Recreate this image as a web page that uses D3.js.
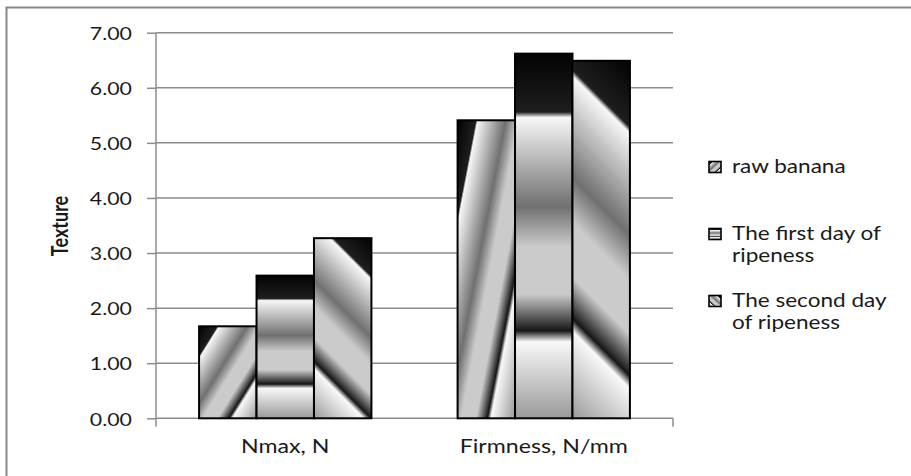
<!DOCTYPE html>
<html>
<head>
<meta charset="utf-8">
<script src="https://cdn.jsdelivr.net/npm/d3@7"></script>
<style>
  html, body { margin: 0; padding: 0; background: #fff; }
  svg { display: block; }
  text { font-family: Lato, "Open Sans", sans-serif; fill: #1a1a1a; }
</style>
</head>
<body>
<svg id="chart" width="911" height="476"></svg>
<script>
// Texture measurements per banana ripeness stage
const categories = ["Nmax, N", "Firmness, N/mm"];
const seriesNames = ["raw banana", "The first day of ripeness", "The second day of ripeness"];
const rawBanana = [1.67, 5.41];
const firstDay = [2.59, 6.62];
const secondDay = [3.27, 6.49];
const yTicks = [0, 1, 2, 3, 4, 5, 6, 7];
const yTitle = "Texture";

const seriesValues = [rawBanana, firstDay, secondDay];

// metallic grey gradient shared by every bar
const chromeStops = [
  [0.00, "#030303"], [0.16, "#1e1e1e"], [0.175, "#f7f7f7"],
  [0.42, "#707070"], [0.53, "#cbcbcb"], [0.66, "#cbcbcb"],
  [0.76, "#161616"], [0.79, "#f8f8f8"], [1.00, "#9a9a9a"]
];

const SX = 1.22;          // horizontal text stretch
const gridColor = "#8c8c8c";

const svg = d3.select("#chart");
const defs = svg.append("defs");

const plotLeft = 156, plotRight = 673, plotTop = 32.7, plotBottom = 418.3;

const y = d3.scaleLinear().domain([0, 7]).range([plotBottom, plotTop]);
const x0 = d3.scaleBand().domain(categories).range([plotLeft, plotRight]).paddingInner(0).paddingOuter(0);
// gap between groups equals 1.5 bar widths
const barW = x0.bandwidth() / 4.5;
const x1 = d3.scaleBand().domain(d3.range(seriesNames.length))
  .range([0, barW * seriesNames.length]);

function addStops(grad) {
  grad.selectAll("stop").data(chromeStops).join("stop")
    .attr("offset", d => d[0]).attr("stop-color", d => d[1]);
}

// bbox-relative gradients: diagonal (series 0), vertical (series 1), anti-diagonal (legend swatch of series 2)
const g0 = defs.append("linearGradient").attr("id", "grad0")
  .attr("x1", 0).attr("y1", 0).attr("x2", 1).attr("y2", 1);
addStops(g0);
const g1 = defs.append("linearGradient").attr("id", "grad1")
  .attr("x1", 0).attr("y1", 0).attr("x2", 0).attr("y2", 1);
addStops(g1);
const g2 = defs.append("linearGradient").attr("id", "grad2")
  .attr("x1", 1).attr("y1", 0).attr("x2", 0).attr("y2", 1);
addStops(g2);

// outer chart border
svg.append("rect")
  .attr("x", 6.5).attr("y", 7.5).attr("width", 1000).attr("height", 600)
  .attr("fill", "none").attr("stroke", "#878787").attr("stroke-width", 2);

// horizontal gridlines
svg.append("g").selectAll("line").data(yTicks.filter(d => d > 0)).join("line")
  .attr("x1", plotLeft).attr("x2", plotRight)
  .attr("y1", d => y(d)).attr("y2", d => y(d))
  .attr("stroke", gridColor).attr("stroke-width", 1.5);

// y axis
const yAxis = svg.append("g").attr("transform", `translate(${plotLeft},0)`)
  .call(d3.axisLeft(y).tickValues(yTicks).tickFormat(d3.format(".2f")).tickSize(9).tickPadding(0));
yAxis.select(".domain").remove();
yAxis.selectAll(".tick line").attr("stroke", gridColor).attr("stroke-width", 1.5);
yAxis.selectAll(".tick text").attr("x", 0).attr("dy", null)
  .attr("dominant-baseline", "central")
  .attr("transform", `translate(-24,0) scale(${SX},1)`)
  .style("font-size", "17.5px").style("fill", "#1a1a1a").style("font-family", "Lato, sans-serif");
svg.append("line").attr("x1", plotLeft).attr("x2", plotLeft).attr("y1", plotTop).attr("y2", plotBottom + 8.5)
  .attr("stroke", gridColor).attr("stroke-width", 1.5);

// x axis
svg.append("line").attr("x1", plotLeft).attr("x2", plotRight).attr("y1", plotBottom).attr("y2", plotBottom)
  .attr("stroke", gridColor).attr("stroke-width", 1.5);
svg.append("line").attr("x1", plotRight).attr("x2", plotRight).attr("y1", plotBottom).attr("y2", plotBottom + 8.5)
  .attr("stroke", gridColor).attr("stroke-width", 1.5);

// category labels
svg.append("g").selectAll("text").data(categories).join("text")
  .attr("transform", d => `translate(${x0(d) + x0.bandwidth() / 2},453) scale(${SX},1)`)
  .attr("text-anchor", "middle")
  .style("font-size", "19px")
  .text(d => d);

// axis title
svg.append("text")
  .attr("transform", `translate(68,226) scale(${SX},1) rotate(-90)`)
  .attr("text-anchor", "middle")
  .style("font-size", "18px").style("font-weight", "bold")
  .text(yTitle);

// bars
const groups = svg.append("g").selectAll("g").data(categories).join("g")
  .attr("transform", d => `translate(${x0(d) + (x0.bandwidth() - barW * 3) / 2},0)`);

groups.each(function(cat, ci) {
  const g = d3.select(this);
  seriesValues.forEach((vals, si) => {
    const bx = x1(si), by = y(vals[ci]), bh = y(0) - y(vals[ci]), bw = x1.bandwidth();
    let fill = `url(#grad${si})`;
    if (si === 2) {
      // anti-diagonal sweep kept at a fixed 45° on screen (group-local coordinates)
      const id = `grad2-${ci}`;
      const ax = bx + bw, ay = by;
      const half = (bw + bh) / 2;
      const gr = defs.append("linearGradient").attr("id", id)
        .attr("gradientUnits", "userSpaceOnUse")
        .attr("x1", ax).attr("y1", ay).attr("x2", ax - half).attr("y2", ay + half);
      addStops(gr);
      fill = `url(#${id})`;
    }
    g.append("rect")
      .attr("x", bx).attr("y", by).attr("width", bw).attr("height", bh)
      .attr("fill", fill).attr("stroke", "#000").attr("stroke-width", 2);
  });
});

// legend
const legend = svg.append("g");
const maxLegendWidth = 170;
const lineH = 22, entryH = 67, legX = 732, legY = 173;
seriesNames.forEach((name, i) => {
  const baseY = legY + i * entryH;
  legend.append("rect")
    .attr("x", 709).attr("y", baseY - 11.5).attr("width", 12).attr("height", 11)
    .attr("fill", `url(#grad${i})`).attr("stroke", "#000").attr("stroke-width", 1.6);
  const t = legend.append("text")
    .attr("transform", `translate(${legX},${baseY}) scale(${SX},1)`)
    .style("font-size", "18.5px");
  // word wrap to the legend width
  const words = name.split(" ");
  let line = [], lineNo = 0;
  let tspan = t.append("tspan").attr("x", 0).attr("y", 0);
  words.forEach(w => {
    line.push(w);
    tspan.text(line.join(" "));
    if (tspan.node().getComputedTextLength() * SX > maxLegendWidth && line.length > 1) {
      line.pop();
      tspan.text(line.join(" "));
      line = [w];
      lineNo++;
      tspan = t.append("tspan").attr("x", 0).attr("y", lineNo * lineH).text(w);
    }
  });
});
</script>
</body>
</html>
